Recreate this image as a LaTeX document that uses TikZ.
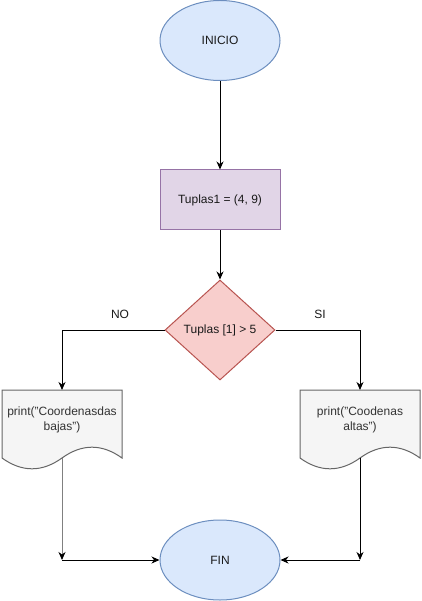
\documentclass[tikz,border=0pt]{standalone}
\usepackage{fontspec}
\setmainfont{Liberation Sans}
\usetikzlibrary{shapes.geometric,arrows.meta,calc}

\definecolor{termfill}{HTML}{DAE8FC}
\definecolor{termline}{HTML}{6C8EBF}
\definecolor{procfill}{HTML}{E1D5E7}
\definecolor{procline}{HTML}{9673A6}
\definecolor{decfill}{HTML}{F8CECC}
\definecolor{decline}{HTML}{B85450}
\definecolor{docfill}{HTML}{F5F5F5}
\definecolor{docline}{HTML}{666666}
\definecolor{doctext}{HTML}{333333}
\definecolor{textdark}{HTML}{1A1A1A}
\definecolor{softline}{HTML}{808080}

% wavy-bottom document outline around a box node of 120 x 80
\newcommand{\docoutline}[1]{%
  \draw[docstroke]
    (#1.north west) -- (#1.north east) -- ($(#1.north east)+(0,68)$)
    .. controls ($(#1.north west)+(100,53.6)$) and ($(#1.north west)+(80,53.6)$) .. ($(#1.north west)+(60,68)$)
    .. controls ($(#1.north west)+(40,82.4)$) and ($(#1.north west)+(20,82.4)$) .. ($(#1.north west)+(0,68)$)
    -- cycle;}

\tikzset{
  terminal/.style={ellipse, draw=termline, fill=termfill, minimum width=120pt, minimum height=80pt, inner sep=0pt, text=textdark},
  process/.style={rectangle, draw=procline, fill=procfill, minimum width=120pt, minimum height=60pt, inner sep=0pt, text=textdark},
  decision/.style={diamond, draw=decline, fill=decfill, minimum width=110pt, minimum height=100pt, inner sep=0pt, text=textdark},
  docbox/.style={rectangle, minimum width=120pt, minimum height=80pt, inner sep=0pt, outer sep=0pt},
  docstroke/.style={draw=docline, fill=docfill},
  doclabel/.style={align=center, text=doctext, inner sep=0pt},
  branch/.style={text=textdark, inner sep=0pt},
  flow/.style={-{Stealth[length=8pt,width=7pt,inset=2.5pt]}, draw=black},
  softflow/.style={-{Stealth[length=8pt,width=7pt,inset=2.5pt,color=black]}, draw=softline}
}

\begin{document}
\begin{tikzpicture}[x=1pt, y=-1pt, line width=1pt, font=\fontsize{12}{15}\selectfont]
\useasboundingbox (0,0) rectangle (421,601);

% main column
\node[terminal] (start) at (220,40.5) {INICIO};
\node[process]  (proc)  at (220,200)  {Tuplas1 = (4, 9)};
\node[decision] (dec)   at (220,330)  {Tuplas [1] > 5};

% output documents
\node[docbox] (docL) at (62,430) {};
\node[docbox] (docR) at (360,430) {};
\docoutline{docL}
\docoutline{docR}
\node[doclabel] (docLtext) at (62,419.5) {print("Coordenasdas\\bajas")};
\node[doclabel] (docRtext) at (360,420) {print("Coodenas\\altas")};

\node[terminal] (fin) at (220,560) {FIN};

% branch labels
\node[branch] (nolbl) at (120,314) {NO};
\node[branch] (silbl) at (320,314) {SI};

% junction points and document bottoms
\coordinate (docLb) at ($(docL.north)+(0,68)$);
\coordinate (docRb) at ($(docR.north)+(0,68)$);
\coordinate (jL) at (62,560);
\coordinate (jR) at (360,560);

% connectors
\draw[flow] (start) -- (proc);
\draw[flow] (proc) -- (dec);
\draw[flow] (dec.west) -| (docL.north);
\draw[flow] (dec.east) -| (docR.north);
\draw[softflow] (docLb) -- (jL);
\draw[flow] (docRb) -- (jR);
\draw[flow] (jL) -- (fin.west);
\draw[flow] (jR) -- (fin.east);
\end{tikzpicture}
\end{document}
